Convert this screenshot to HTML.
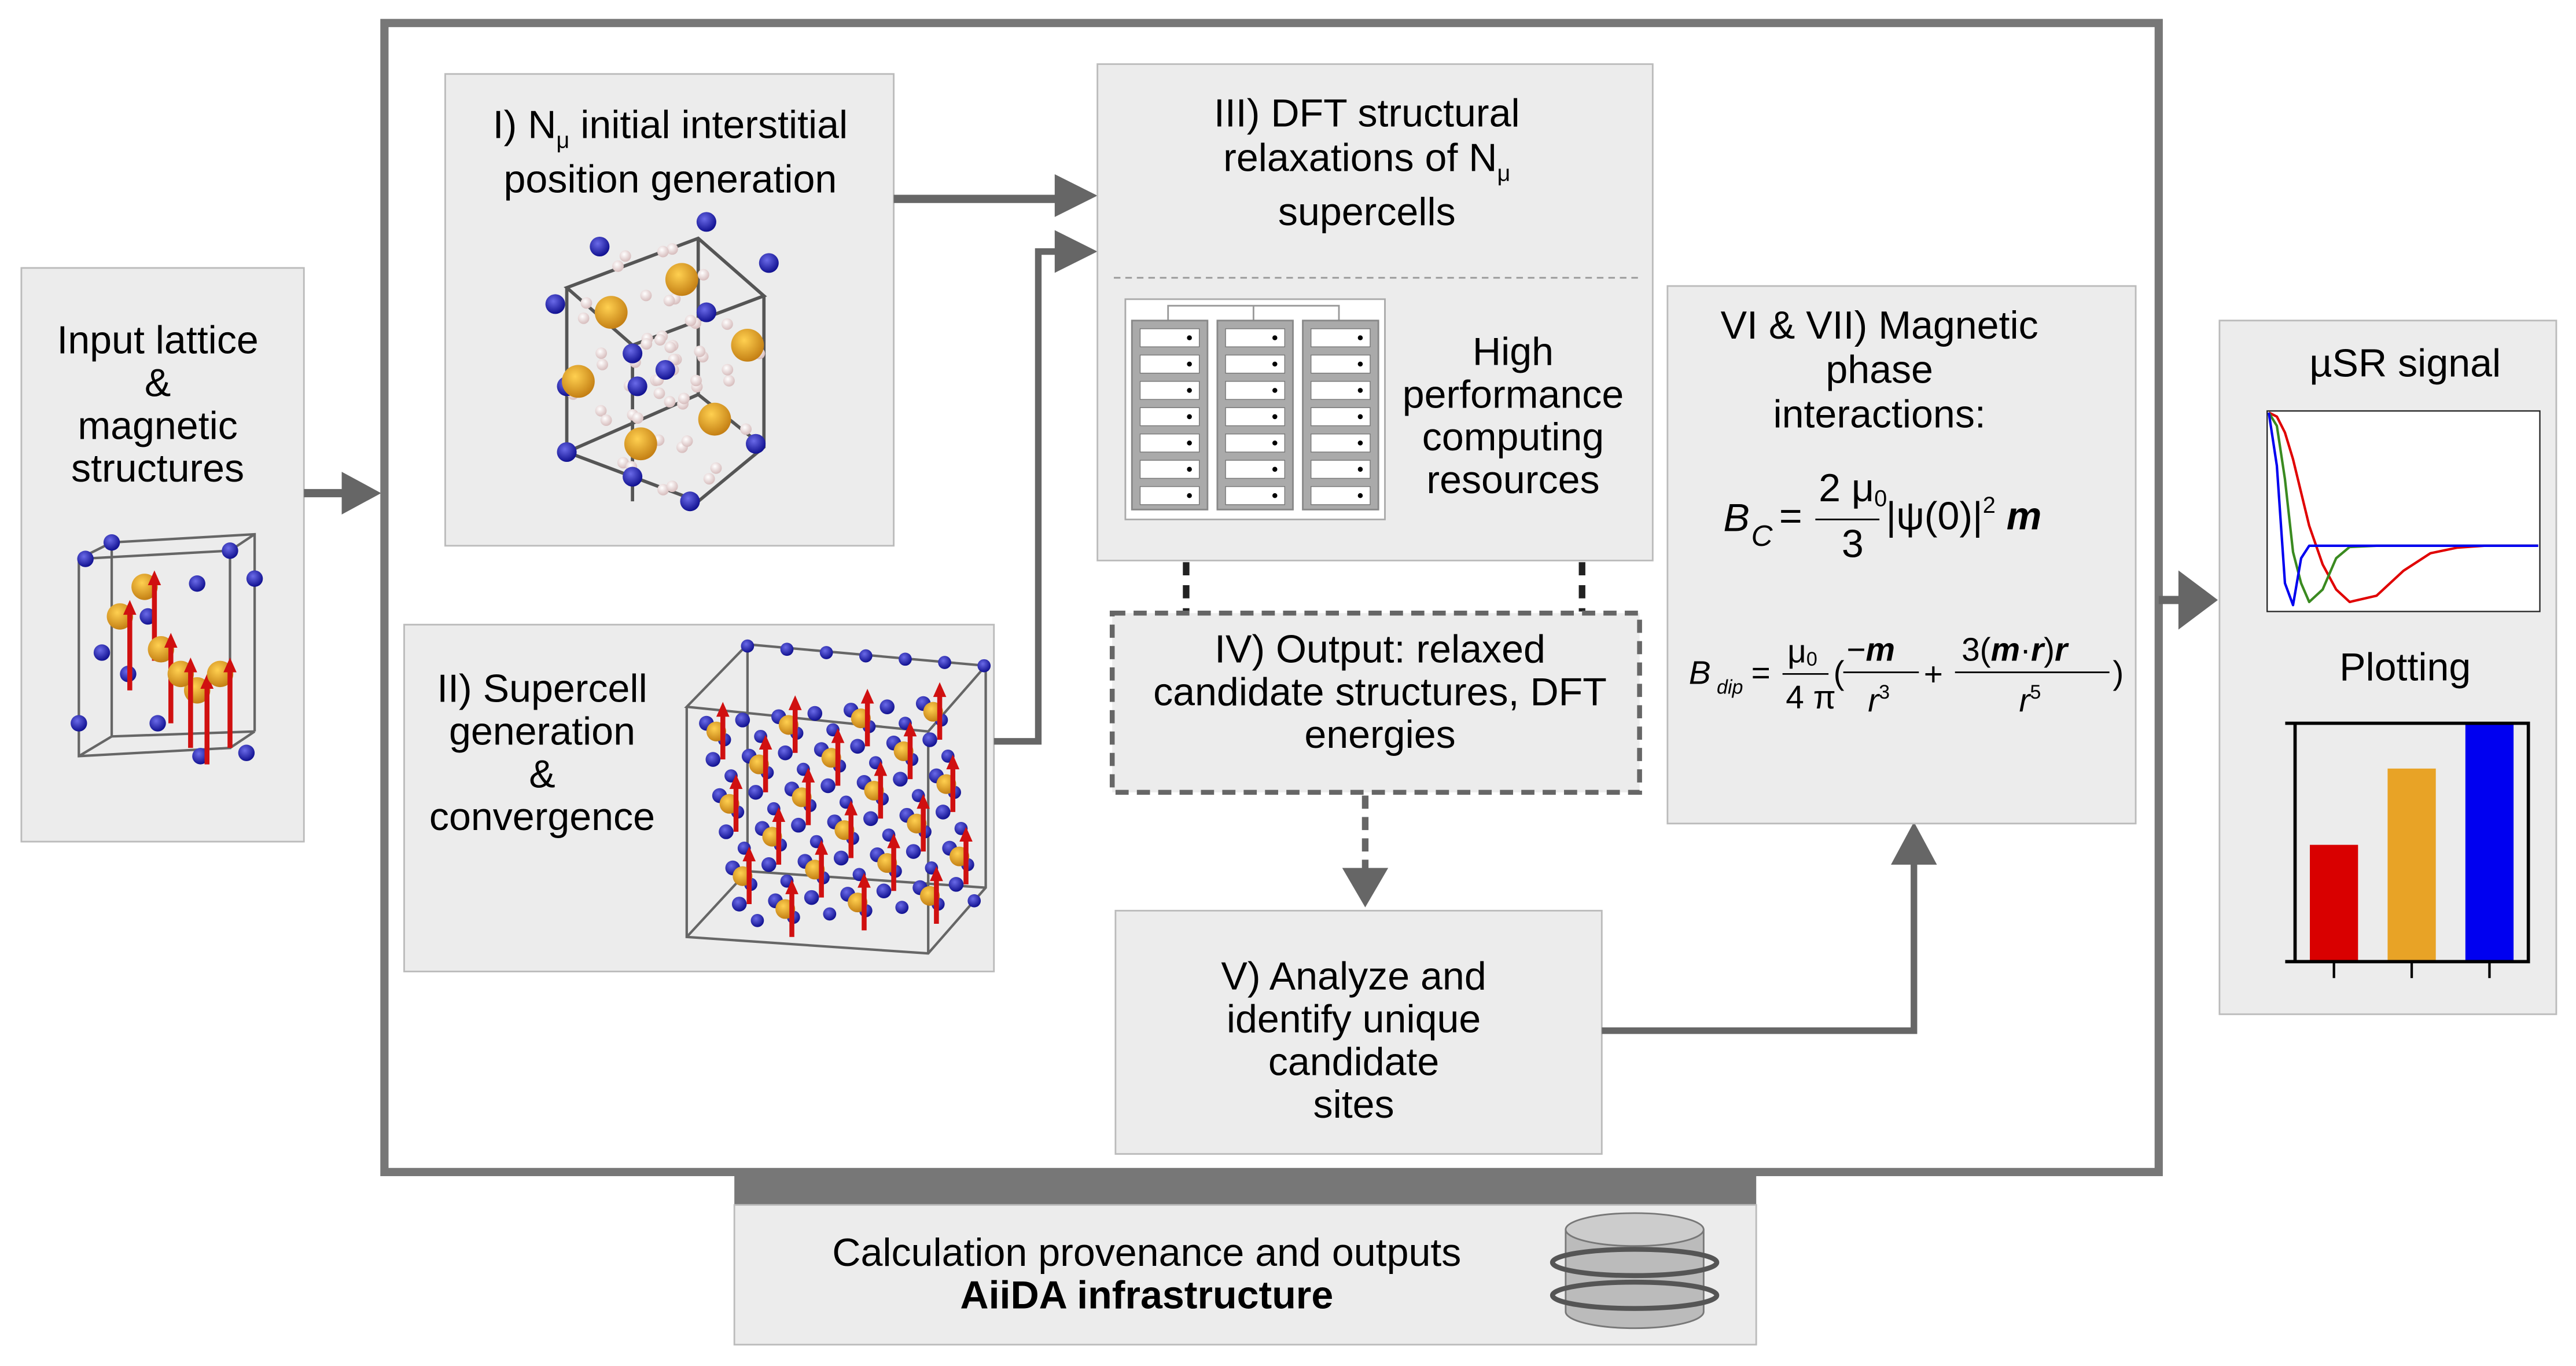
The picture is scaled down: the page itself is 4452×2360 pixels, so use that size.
<!DOCTYPE html>
<html><head><meta charset="utf-8"><style>
html,body{margin:0;padding:0;background:#fff}
svg{display:block}
text{font-family:"Liberation Sans",sans-serif;fill:#000}
</style></head><body>
<svg id="s" width="4452" height="2360" viewBox="0 0 1568 831" preserveAspectRatio="none" xmlns="http://www.w3.org/2000/svg">
<defs>
<radialGradient id="gb" cx="0.4" cy="0.35" r="0.7"><stop offset="0" stop-color="#6a6ae8"/><stop offset="1" stop-color="#0a0a8a"/></radialGradient>
<radialGradient id="go" cx="0.4" cy="0.35" r="0.7"><stop offset="0" stop-color="#ffd050"/><stop offset="1" stop-color="#c07a10"/></radialGradient>
<radialGradient id="gp" cx="0.4" cy="0.35" r="0.7"><stop offset="0" stop-color="#fff"/><stop offset="1" stop-color="#d4b8b8"/></radialGradient>
</defs>
<rect x="13" y="163" width="172" height="349" fill="#ececec" stroke="#bbb"/>
<text x="96" y="215" font-size="24" text-anchor="middle"><tspan x="96">Input lattice</tspan><tspan x="96" dy="26">&amp;</tspan><tspan x="96" dy="26">magnetic</tspan><tspan x="96" dy="26">structures</tspan></text>
<g id="cell0"></g>
<path d="M185 300 H210" stroke="#666" stroke-width="5" fill="none"/>
<path d="M208 287 L232 300 L208 313Z" fill="#666"/>
<rect x="234" y="14" width="1080" height="699" fill="none" stroke="#777" stroke-width="5"/>
<rect x="271" y="45" width="273" height="287" fill="#ececec" stroke="#bbb"/>
<text x="408" y="84" font-size="24" text-anchor="middle">I) N<tspan font-size="14" dy="6">μ</tspan><tspan dy="-6">  initial interstitial</tspan></text>
<text x="408" y="117" font-size="24" text-anchor="middle">position generation</text>
<g id="cell1"></g>
<rect x="246" y="380" width="359" height="211" fill="#ececec" stroke="#bbb"/>
<text x="330" y="427" font-size="24" text-anchor="middle"><tspan x="330">II) Supercell</tspan><tspan x="330" dy="26">generation</tspan><tspan x="330" dy="26">&amp;</tspan><tspan x="330" dy="26">convergence</tspan></text>
<g id="cell2"></g>
<path d="M544 121 H645" stroke="#666" stroke-width="5" fill="none"/>
<path d="M642 106 L668 119 L642 132Z" fill="#666"/>
<path d="M605 451 H632 V153 H645" stroke="#666" stroke-width="4" fill="none"/>
<path d="M642 140 L668 153 L642 166Z" fill="#666"/>
<rect x="668" y="39" width="338" height="302" fill="#ececec" stroke="#bbb"/>
<text x="832" y="77" font-size="24" text-anchor="middle">III) DFT structural</text>
<text x="832" y="104" font-size="24" text-anchor="middle">relaxations  of N<tspan font-size="14" dy="6">μ</tspan></text>
<text x="832" y="137" font-size="24" text-anchor="middle">supercells</text>
<line x1="678" y1="169" x2="1000" y2="169" stroke="#999" stroke-dasharray="4 3"/>
<g id="servers">
<rect x="685" y="182" width="158" height="134" fill="#fff" stroke="#aaa"/>
<path d="M711 195 V186 H815 V195 M763 186 V195" stroke="#999" fill="none"/>
</g>
<text x="921" y="222" font-size="24" text-anchor="middle"><tspan x="921">High</tspan><tspan x="921" dy="26">performance</tspan><tspan x="921" dy="26">computing</tspan><tspan x="921" dy="26">resources</tspan></text>
<path d="M722 342 V372 M963 342 V372" stroke="#222" stroke-width="4" stroke-dasharray="8 6"/>
<rect x="677" y="373" width="321" height="109" fill="#ececec" stroke="#666" stroke-width="3" stroke-dasharray="8 5"/>
<text x="840" y="403" font-size="24" text-anchor="middle"><tspan x="840">IV) Output:  relaxed</tspan><tspan x="840" dy="26">candidate structures, DFT</tspan><tspan x="840" dy="26">energies</tspan></text>
<path d="M831 484 V530" stroke="#666" stroke-width="4" stroke-dasharray="8 5"/>
<path d="M817 528 L831 552 L845 528Z" fill="#666"/>
<rect x="679" y="554" width="296" height="148" fill="#ececec" stroke="#bbb"/>
<text x="824" y="602" font-size="24" text-anchor="middle"><tspan x="824">V) Analyze and</tspan><tspan x="824" dy="26">identify unique</tspan><tspan x="824" dy="26">candidate</tspan><tspan x="824" dy="26">sites</tspan></text>
<path d="M975 627 H1165 V523" stroke="#666" stroke-width="4" fill="none"/>
<path d="M1151 526 L1165 500 L1179 526Z" fill="#666"/>
<rect x="1015" y="174" width="285" height="327" fill="#ececec" stroke="#bbb"/>
<text x="1144" y="206" font-size="24" text-anchor="middle"><tspan x="1144">VI &amp; VII) Magnetic</tspan><tspan x="1144" dy="27">phase</tspan><tspan x="1144" dy="27">interactions:</tspan></text>
<g font-size="24">
<text x="1049" y="323" font-style="italic">B</text><text x="1066" y="332" font-style="italic" font-size="18">C</text>
<text x="1083" y="322">=</text>
<text x="1107" y="305">2 μ<tspan font-size="14" dy="3">0</tspan></text>
<line x1="1105" y1="316" x2="1144" y2="316" stroke="#000"/>
<text x="1121" y="339">3</text>
<text x="1148" y="322">|ψ(0)|<tspan font-size="14" dy="-10">2</tspan><tspan dy="10" font-weight="bold" font-style="italic"> m</tspan></text>
</g>
<g font-size="20">
<text x="1028" y="416" font-style="italic">B</text><text x="1045" y="422" font-style="italic" font-size="12">dip</text>
<text x="1066" y="416">=</text>
<text x="1088" y="403">μ<tspan font-size="12" dy="2">0</tspan></text>
<line x1="1085" y1="410" x2="1113" y2="410" stroke="#000"/>
<text x="1087" y="431">4 π</text>
<text x="1116" y="416">(</text>
<text x="1124" y="402">−<tspan font-weight="bold" font-style="italic">m</tspan></text>
<line x1="1122" y1="409" x2="1168" y2="409" stroke="#000"/>
<text x="1137" y="433" font-style="italic">r<tspan font-size="12" dy="-8" font-style="normal">3</tspan></text>
<text x="1171" y="417">+</text>
<text x="1194" y="402">3(<tspan font-weight="bold" font-style="italic">m</tspan>·<tspan font-weight="bold" font-style="italic">r</tspan>)<tspan font-weight="bold" font-style="italic">r</tspan></text>
<line x1="1190" y1="409" x2="1284" y2="409" stroke="#000"/>
<text x="1229" y="433" font-style="italic">r<tspan font-size="12" dy="-8" font-style="normal">5</tspan></text>
<text x="1286" y="416">)</text>
</g>
<path d="M1314 365 H1330" stroke="#666" stroke-width="5"/>
<path d="M1326 347 L1350 365 L1326 383Z" fill="#666"/>
<rect x="1351" y="195" width="205" height="422" fill="#ececec" stroke="#bbb"/>
<text x="1464" y="229" font-size="24" text-anchor="middle">µSR signal</text>
<g id="musr"><rect x="1380" y="250" width="166" height="122" fill="#fff" stroke="#222" stroke-width="0.8"/></g>
<text x="1464" y="414" font-size="24" text-anchor="middle">Plotting</text>
<g id="bars"></g>
<rect x="447" y="713" width="622" height="20" fill="#777"/>
<rect x="447" y="733" width="622" height="85" fill="#ececec" stroke="#bbb"/>
<text x="698" y="770" font-size="24" text-anchor="middle">Calculation provenance and outputs</text>
<text x="698" y="796" font-size="24" text-anchor="middle" font-weight="bold">AiiDA infrastructure</text>
<g>
<path d="M953 748 V798 A42 10 0 0 0 1037 798 V748" fill="#bbb" stroke="#777"/>
<ellipse cx="995" cy="748" rx="42" ry="10" fill="#ccc" stroke="#777"/>
<path d="M945 768 A50 8 0 0 0 1045 768 A50 8 0 0 0 945 768 M945 788 A50 8 0 0 0 1045 788 A50 8 0 0 0 945 788" fill="none" stroke="#555" stroke-width="3"/>
</g>
</svg>
<script>
const NS="http://www.w3.org/2000/svg";
function mk(p,t,a){const e=document.createElementNS(NS,t);for(const k in a)e.setAttribute(k,a[k]);p.appendChild(e);return e;}
const barCategories=["A","B","C"];
const barValues=[0.49,0.81,1.0];
const barColors=["#d90000","#e8a326","#0000f0"];
const musrT=[0,0.03,0.06,0.09,0.12,0.15,0.2,0.25,0.3,0.4,0.5,0.6,0.7,0.8,0.9,1.0];
const musrBlue=[1,0.6,-0.6,-0.95,-0.2,0,0,0,0,0,0,0,0,0,0,0];
const musrGreen=[1,0.9,0.5,-0.1,-0.6,-0.9,-0.7,-0.2,-0.02,0,0,0,0,0,0,0];
const musrRed=[1,0.97,0.85,0.65,0.4,0.15,-0.3,-0.7,-0.9,-0.8,-0.4,-0.12,-0.03,0,0,0];
(function(){
 const g=document.getElementById('bars');
 const x0=1397,x1=1539,yT=440,yB=585;
 const yS=v=>yB-v*(yB-yT);
 const bw=(x1-x0)/barValues.length;
 barValues.forEach((v,i)=>{
  const r=mk(g,'rect',{x:x0+i*bw+9,y:yS(v),width:bw-18,height:yB-yS(v),fill:barColors[i]});
  
  
  mk(g,'line',{x1:x0+i*bw+bw/2,y1:yB,x2:x0+i*bw+bw/2,y2:yB+10,stroke:'#000','stroke-width':1.5});
 });
 mk(g,'path',{d:`M${x0-6} ${yT} H${x1} V${yB} H${x0-6} M${x0} ${yT} V${yB}`,fill:'none',stroke:'#000','stroke-width':2});
 const m=document.getElementById('musr');
 const mx=t=>1381+t*164,my=v=>v>=0?332-v*81:332-v*38;
 [[musrRed,'#e00000'],[musrGreen,'#3a8a20'],[musrBlue,'#0000f0']].forEach(([s,c],k)=>{
  const p=mk(m,'path',{d:'M'+s.map((v,i)=>mx(musrT[i])+' '+my(v)).join(' L'),fill:'none',stroke:c,'stroke-width':1.5,'stroke-linejoin':'round'});
  
  
 });
 const sv=document.getElementById('servers');
 for(let c=0;c<3;c++){const x=689+c*52;mk(sv,'rect',{x:x,y:195,width:46,height:115,fill:'#aaa',stroke:'#888'});
  for(let r=0;r<7;r++){mk(sv,'rect',{x:x+5,y:200+r*16,width:36,height:11,fill:'#fff',stroke:'#777','stroke-width':0.5});mk(sv,'circle',{cx:x+35,cy:205.5+r*16,r:1.5,fill:'#000'});}}
 function atom(g,x,y,r,f){mk(g,'circle',{cx:x,cy:y,r:r,fill:f});}
 function arrow(g,x,y,h){mk(g,'line',{x1:x,y1:y,x2:x,y2:y-h,stroke:'#d01010','stroke-width':3});mk(g,'path',{d:`M${x-4} ${y-h+2} L${x} ${y-h-7} L${x+4} ${y-h+2}Z`,fill:'#d01010'});}
 const c0=document.getElementById('cell0');
 mk(c0,'path',{d:'M48 340 L140 335 L140 455 L48 460Z M68 330 L155 325 L155 445 M48 340 L68 330 M140 335 L155 325 M48 460 L68 448 L155 445 M68 330 V448 M140 455 L155 445',fill:'none',stroke:'#666','stroke-width':1.5});
 [[52,340],[140,335],[68,330],[155,352],[48,440],[122,460],[150,458],[62,397],[120,355],[90,375],[78,410],[96,440]].forEach(p=>atom(c0,p[0],p[1],5,'url(#gb)'));
 [[73,375],[88,357],[98,395],[120,420],[134,410],[110,410]].forEach(p=>{atom(c0,p[0],p[1],8,'url(#go)');arrow(c0,p[0]+6,p[1]+45,48);});
 const c1=document.getElementById('cell1');
 mk(c1,'path',{d:'M345 175 L425 145 L465 180 L385 210Z M345 175 V275 L425 305 L465 272 V180 M385 210 V305 M425 145 V240 M345 275 L425 240 L465 272',fill:'none',stroke:'#555','stroke-width':2});
 for(let i=0;i<60;i++){const a=i*2.399,rr=8+(i*37%90);atom(c1,405+Math.cos(a)*rr*0.6,225+Math.sin(a)*rr*0.9,3.5,'url(#gp)');}
 [[338,185],[365,150],[430,135],[468,160],[385,215],[430,190],[405,225],[345,275],[420,305],[460,270],[388,235],[345,235],[385,290]].forEach(p=>atom(c1,p[0],p[1],6,'url(#gb)'));
 [[415,170],[372,190],[455,210],[352,232],[435,255],[390,270]].forEach(p=>atom(c1,p[0],p[1],10,'url(#go)'));
 const c2=document.getElementById('cell2');
 mk(c2,'path',{d:'M418 430 L565 445 L600 405 L455 392Z M418 430 V570 L565 580 L600 540 V405 M565 445 V580 M455 392 V530 L600 540 M418 570 L455 530',fill:'none',stroke:'#666','stroke-width':1.5});
 for(let i=0;i<7;i++)for(let j=0;j<6;j++){
  const x=430+i*22+j*4,y=440+j*22-i*2;
  atom(c2,x,y,4.5,'url(#gb)');atom(c2,x+11,y+10,4,'url(#gb)');
  if((i+j)%2==0){atom(c2,x+6,y+5,6,'url(#go)');arrow(c2,x+10,y+22,28);}
 }
 for(let i=0;i<7;i++){atom(c2,455+i*24,393+i*2,4,'url(#gb)');}
})();
</script>
</body></html>
